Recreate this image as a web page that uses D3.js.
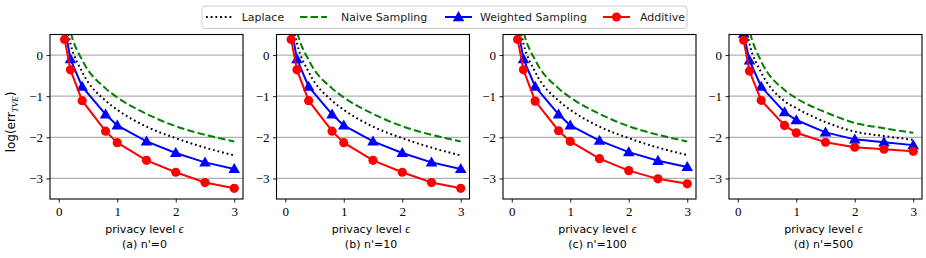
<!DOCTYPE html>
<html>
<head>
<meta charset="utf-8">
<script src="https://cdn.jsdelivr.net/npm/d3@7"></script>
<style>
  body { margin: 0; background: #fff; }
  svg { display: block; }
</style>
</head>
<body>
<svg id="chart"></svg>
<script>
// values
const eps = [0.1, 0.2, 0.4, 0.8, 1.0, 1.5, 2.0, 2.5, 3.0];
const captions = ["(a) n'=0", "(b) n'=10", "(c) n'=100", "(d) n'=500"];
const yTicks = [0, -1, -2, -3];
const xTicks = [0, 1, 2, 3];

const laplace = [
  [0.97, 0.28, -0.41, -1.11, -1.33, -1.74, -2.02, -2.25, -2.44],
  [0.97, 0.28, -0.41, -1.11, -1.33, -1.74, -2.02, -2.25, -2.44],
  [0.97, 0.28, -0.41, -1.11, -1.33, -1.74, -2.02, -2.25, -2.43],
  [0.95, 0.27, -0.42, -1.12, -1.29, -1.63, -1.86, -1.97, -2.06]
];
const naive = [
  [1.3, 0.58, -0.12, -0.81, -1.03, -1.43, -1.73, -1.94, -2.10],
  [1.3, 0.58, -0.12, -0.81, -1.03, -1.43, -1.73, -1.94, -2.10],
  [1.3, 0.58, -0.12, -0.81, -1.03, -1.43, -1.73, -1.94, -2.10],
  [1.3, 0.60, -0.15, -0.85, -1.05, -1.39, -1.65, -1.78, -1.89]
];
const weighted = [
  [0.7, -0.10, -0.77, -1.44, -1.71, -2.10, -2.38, -2.61, -2.77],
  [0.7, -0.10, -0.77, -1.44, -1.71, -2.10, -2.38, -2.61, -2.77],
  [0.7, -0.10, -0.77, -1.44, -1.71, -2.08, -2.36, -2.57, -2.72],
  [0.52, -0.13, -0.77, -1.39, -1.58, -1.88, -2.05, -2.12, -2.19]
];
const additive = [
  [0.38, -0.36, -1.11, -1.85, -2.13, -2.56, -2.85, -3.10, -3.24],
  [0.38, -0.36, -1.11, -1.85, -2.13, -2.56, -2.85, -3.10, -3.24],
  [0.38, -0.36, -1.12, -1.84, -2.10, -2.52, -2.81, -3.01, -3.13],
  [0.36, -0.39, -1.10, -1.71, -1.89, -2.12, -2.24, -2.29, -2.34]
];

const series = [
  { name: "Laplace", values: laplace, color: "#000000", dash: "1.8,2.9", marker: null, smooth: true },
  { name: "Naive Sampling", values: naive, color: "#008000", dash: "7.4,3.2", marker: null, smooth: true },
  { name: "Weighted Sampling", values: weighted, color: "#0000ff", dash: null, marker: "triangle", smooth: false },
  { name: "Additive", values: additive, color: "#ff0000", dash: null, marker: "circle", smooth: false }
];

const W = 926, H = 258;
const panelLeft = [50, 276.5, 503, 729];
const panelW = 193, plotTop = 34.5, plotBottom = 199;
const sans = "'DejaVu Sans', sans-serif";
const serif = "'Liberation Serif', 'DejaVu Serif', serif";

const svg = d3.select("#chart").attr("width", W).attr("height", H);

const yScale = d3.scaleLinear().domain([-3.5, 0.5]).range([plotBottom, plotTop]);
const triangle = d3.symbol().type(d3.symbolTriangle).size(58);

panelLeft.forEach((left, p) => {
  const xScale = d3.scaleLinear().domain([-0.15, 3.15]).range([0, panelW]);
  const g = svg.append("g").attr("transform", `translate(${left},0)`);

  g.append("clipPath").attr("id", "clip" + p)
    .append("rect").attr("x", 0).attr("y", plotTop).attr("width", panelW).attr("height", plotBottom - plotTop);

  // horizontal grid
  g.selectAll(".grid").data(yTicks).join("line")
    .attr("x1", 0).attr("x2", panelW)
    .attr("y1", d => yScale(d)).attr("y2", d => yScale(d))
    .attr("stroke", "#b0b0b0").attr("stroke-width", 1.3);

  const plot = g.append("g").attr("clip-path", `url(#clip${p})`);

  series.forEach(s => {
    const pts = eps.map((e, i) => [e, s.values[p][i]]);
    const line = d3.line()
      .x(d => xScale(d[0]))
      .y(d => yScale(d[1]))
      .curve(s.smooth ? d3.curveMonotoneX : d3.curveLinear);
    plot.append("path")
      .attr("d", line(pts))
      .attr("fill", "none")
      .attr("stroke", s.color)
      .attr("stroke-width", 2)
      .attr("stroke-dasharray", s.dash);
    if (s.marker === "circle") {
      plot.selectAll(null).data(pts).join("circle")
        .attr("cx", d => xScale(d[0])).attr("cy", d => yScale(d[1]))
        .attr("r", 4.6).attr("fill", s.color);
    } else if (s.marker === "triangle") {
      plot.selectAll(null).data(pts).join("path")
        .attr("d", triangle)
        .attr("transform", d => `translate(${xScale(d[0])},${yScale(d[1]) + 0.8})`)
        .attr("fill", s.color);
    }
  });

  // frame
  g.append("rect").attr("x", 0).attr("y", plotTop).attr("width", panelW).attr("height", plotBottom - plotTop)
    .attr("fill", "none").attr("stroke", "#000").attr("stroke-width", 1.1);

  const yAxis = g.append("g")
    .call(d3.axisLeft(yScale).tickValues(yTicks).tickSize(3.5).tickPadding(3.5)
      .tickFormat(d => d === 0 ? "0" : "\u2212" + Math.abs(d)));
  const xAxis = g.append("g").attr("transform", `translate(0,${plotBottom})`)
    .call(d3.axisBottom(xScale).tickValues(xTicks).tickSize(3.5).tickPadding(4).tickFormat(d3.format("d")));
  [yAxis, xAxis].forEach(a => {
    a.attr("font-family", serif).attr("font-size", 13);
    a.select(".domain").remove();
    a.selectAll("line").attr("stroke", "#000").attr("stroke-width", 0.9);
    a.selectAll("text").attr("font-family", serif).attr("font-size", 13).attr("fill", "#000");
  });

  const xl = g.append("text").attr("x", panelW / 2 - 2).attr("y", 233)
    .attr("text-anchor", "middle").attr("font-family", sans).attr("font-size", 11);
  xl.append("tspan").text("privacy level ");
  xl.append("tspan").attr("font-family", serif).attr("font-style", "italic").attr("font-size", 12).text("\u03f5");

  g.append("text").attr("x", panelW / 2 - 2).attr("y", 248)
    .attr("text-anchor", "middle").attr("font-family", sans).attr("font-size", 11)
    .text(captions[p]);
});

// y label
const yl = svg.append("text")
  .attr("transform", `translate(15,122) rotate(-90)`)
  .attr("text-anchor", "middle").attr("font-family", sans).attr("font-size", 12);
yl.append("tspan").text("log(err");
yl.append("tspan").attr("font-family", serif).attr("font-style", "italic").attr("font-size", 9)
  .attr("dy", 3).text("TVE");
yl.append("tspan").attr("dy", -3).text(")");

// legend
const legend = svg.append("g");
legend.append("rect").attr("x", 202).attr("y", 6).attr("width", 485).attr("height", 22.5)
  .attr("rx", 3).attr("fill", "#fff").attr("stroke", "#cccccc").attr("stroke-width", 1);
const legX = [206, 300, 445, 603];
const textX = [241.7, 341, 480, 640];
series.forEach((s, i) => {
  const ly = 17;
  legend.append("line").attr("x1", legX[i]).attr("x2", legX[i] + 27).attr("y1", ly).attr("y2", ly)
    .attr("stroke", s.color).attr("stroke-width", 2).attr("stroke-dasharray", s.dash);
  if (s.marker === "circle") {
    legend.append("circle").attr("cx", legX[i] + 13.5).attr("cy", ly).attr("r", 4.6).attr("fill", s.color);
  } else if (s.marker === "triangle") {
    legend.append("path").attr("d", triangle).attr("transform", `translate(${legX[i] + 13.5},${ly + 0.8})`)
      .attr("fill", s.color);
  }
  legend.append("text").attr("x", textX[i]).attr("y", ly + 4)
    .attr("font-family", sans).attr("font-size", 11).attr("fill", "#222").text(s.name);
});
</script>
</body>
</html>
